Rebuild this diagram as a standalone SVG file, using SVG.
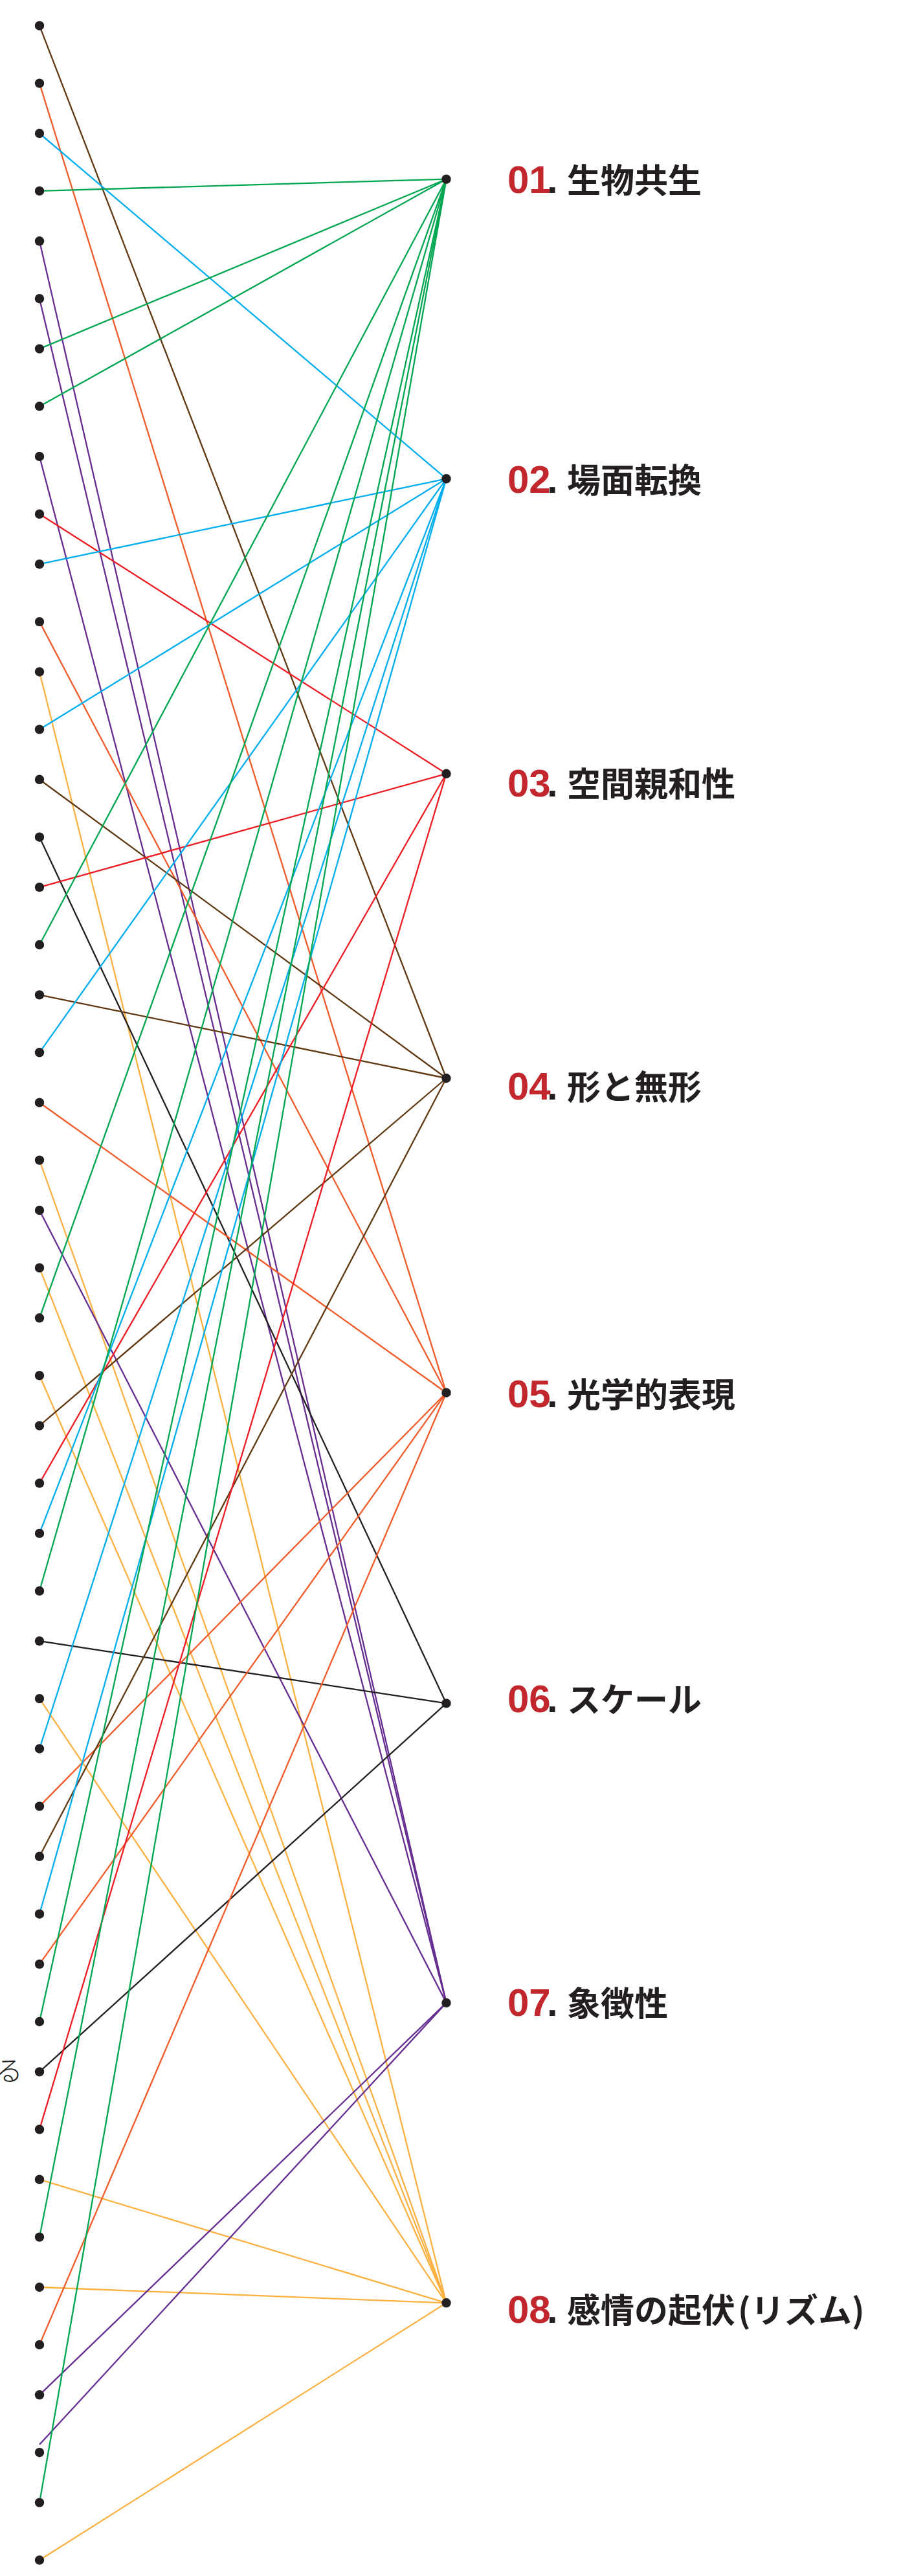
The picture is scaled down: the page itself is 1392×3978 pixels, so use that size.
<svg xmlns="http://www.w3.org/2000/svg" width="1392" height="3978" viewBox="0 0 1392 3978">
<style>
.bg{fill:#ffffff}
.c line{stroke-width:2.3;fill:none}
.g{stroke:#00a651}.b{stroke:#00aeef}.r{stroke:#ed1c24}.br{stroke:#603913}
.o{stroke:#f15a29}.k{stroke:#231f20}.p{stroke:#662d91}.y{stroke:#fbb040}
.dot{fill:#231f20}
.num{font-family:"Liberation Sans",Arial,sans-serif;font-weight:700;font-size:60px;fill:#c1272d}
.pd{font-family:"Liberation Sans",Arial,sans-serif;font-weight:700;font-size:60px;fill:#231f20}
.jp{font-family:"Noto Sans CJK JP","Noto Sans CJK SC",sans-serif;font-weight:700;font-size:52px;fill:#231f20}
.cut{font-family:"Noto Sans CJK JP","Noto Sans CJK SC",sans-serif;font-weight:300;font-size:42px;fill:#231f20}
</style>
<rect class="bg" x="0" y="0" width="1392" height="3978"/>
<g id="connectors" class="c">
<line class="br" x1="61" y1="39.7" x2="689.5" y2="1665"/>
<line class="o" x1="61" y1="128.6" x2="689.5" y2="2150.7"/>
<line class="b" x1="61" y1="206" x2="689.5" y2="739.3"/>
<line class="g" x1="61" y1="294.9" x2="689.5" y2="276.7"/>
<line class="p" x1="61" y1="372.3" x2="689.5" y2="3092.9"/>
<line class="p" x1="61" y1="461.2" x2="689.5" y2="3092.9"/>
<line class="g" x1="61" y1="538.6" x2="689.5" y2="276.7"/>
<line class="g" x1="61" y1="627.5" x2="689.5" y2="276.7"/>
<line class="p" x1="61" y1="704.9" x2="689.5" y2="3092.9"/>
<line class="r" x1="61" y1="793.8" x2="689.5" y2="1194.8"/>
<line class="b" x1="61" y1="871.2" x2="689.5" y2="739.3"/>
<line class="o" x1="61" y1="960.1" x2="689.5" y2="2150.7"/>
<line class="y" x1="61" y1="1037.5" x2="689.5" y2="3556.3"/>
<line class="b" x1="61" y1="1126.4" x2="689.5" y2="739.3"/>
<line class="br" x1="61" y1="1203.8" x2="689.5" y2="1665"/>
<line class="k" x1="61" y1="1292.7" x2="689.5" y2="2630.4"/>
<line class="r" x1="61" y1="1370.1" x2="689.5" y2="1194.8"/>
<line class="g" x1="61" y1="1459" x2="689.5" y2="276.7"/>
<line class="br" x1="61" y1="1536.4" x2="689.5" y2="1665"/>
<line class="b" x1="61" y1="1625.3" x2="689.5" y2="739.3"/>
<line class="o" x1="61" y1="1702.7" x2="689.5" y2="2150.7"/>
<line class="y" x1="61" y1="1791.6" x2="689.5" y2="3556.3"/>
<line class="p" x1="61" y1="1869" x2="689.5" y2="3092.9"/>
<line class="y" x1="61" y1="1957.9" x2="689.5" y2="3556.3"/>
<line class="g" x1="61" y1="2035.3" x2="689.5" y2="276.7"/>
<line class="y" x1="61" y1="2124.2" x2="689.5" y2="3556.3"/>
<line class="br" x1="61" y1="2201.6" x2="689.5" y2="1665"/>
<line class="r" x1="61" y1="2290.5" x2="689.5" y2="1194.8"/>
<line class="b" x1="61" y1="2367.9" x2="689.5" y2="739.3"/>
<line class="g" x1="61" y1="2456.8" x2="689.5" y2="276.7"/>
<line class="k" x1="61" y1="2534.2" x2="689.5" y2="2630.4"/>
<line class="y" x1="61" y1="2623.1" x2="689.5" y2="3556.3"/>
<line class="b" x1="61" y1="2700.5" x2="689.5" y2="739.3"/>
<line class="o" x1="61" y1="2789.4" x2="689.5" y2="2150.7"/>
<line class="br" x1="61" y1="2866.8" x2="689.5" y2="1665"/>
<line class="b" x1="61" y1="2955.7" x2="689.5" y2="739.3"/>
<line class="o" x1="61" y1="3033.1" x2="689.5" y2="2150.7"/>
<line class="g" x1="61" y1="3122" x2="689.5" y2="276.7"/>
<line class="k" x1="61" y1="3199.4" x2="689.5" y2="2630.4"/>
<line class="r" x1="61" y1="3288.3" x2="689.5" y2="1194.8"/>
<line class="y" x1="61" y1="3365.7" x2="689.5" y2="3556.3"/>
<line class="g" x1="61" y1="3454.6" x2="689.5" y2="276.7"/>
<line class="y" x1="61" y1="3532" x2="689.5" y2="3556.3"/>
<line class="o" x1="61" y1="3620.9" x2="689.5" y2="2150.7"/>
<line class="p" x1="61" y1="3698.3" x2="689.5" y2="3092.9"/>
<line class="p" x1="61" y1="3775" x2="689.5" y2="3092.9"/>
<line class="g" x1="61" y1="3864.6" x2="689.5" y2="276.7"/>
<line class="y" x1="61" y1="3953.5" x2="689.5" y2="3556.3"/>
</g>
<g id="left-dots">
<circle class="dot" cx="61" cy="39.7" r="7.2"/>
<circle class="dot" cx="61" cy="128.6" r="7.2"/>
<circle class="dot" cx="61" cy="206" r="7.2"/>
<circle class="dot" cx="61" cy="294.9" r="7.2"/>
<circle class="dot" cx="61" cy="372.3" r="7.2"/>
<circle class="dot" cx="61" cy="461.2" r="7.2"/>
<circle class="dot" cx="61" cy="538.6" r="7.2"/>
<circle class="dot" cx="61" cy="627.5" r="7.2"/>
<circle class="dot" cx="61" cy="704.9" r="7.2"/>
<circle class="dot" cx="61" cy="793.8" r="7.2"/>
<circle class="dot" cx="61" cy="871.2" r="7.2"/>
<circle class="dot" cx="61" cy="960.1" r="7.2"/>
<circle class="dot" cx="61" cy="1037.5" r="7.2"/>
<circle class="dot" cx="61" cy="1126.4" r="7.2"/>
<circle class="dot" cx="61" cy="1203.8" r="7.2"/>
<circle class="dot" cx="61" cy="1292.7" r="7.2"/>
<circle class="dot" cx="61" cy="1370.1" r="7.2"/>
<circle class="dot" cx="61" cy="1459" r="7.2"/>
<circle class="dot" cx="61" cy="1536.4" r="7.2"/>
<circle class="dot" cx="61" cy="1625.3" r="7.2"/>
<circle class="dot" cx="61" cy="1702.7" r="7.2"/>
<circle class="dot" cx="61" cy="1791.6" r="7.2"/>
<circle class="dot" cx="61" cy="1869" r="7.2"/>
<circle class="dot" cx="61" cy="1957.9" r="7.2"/>
<circle class="dot" cx="61" cy="2035.3" r="7.2"/>
<circle class="dot" cx="61" cy="2124.2" r="7.2"/>
<circle class="dot" cx="61" cy="2201.6" r="7.2"/>
<circle class="dot" cx="61" cy="2290.5" r="7.2"/>
<circle class="dot" cx="61" cy="2367.9" r="7.2"/>
<circle class="dot" cx="61" cy="2456.8" r="7.2"/>
<circle class="dot" cx="61" cy="2534.2" r="7.2"/>
<circle class="dot" cx="61" cy="2623.1" r="7.2"/>
<circle class="dot" cx="61" cy="2700.5" r="7.2"/>
<circle class="dot" cx="61" cy="2789.4" r="7.2"/>
<circle class="dot" cx="61" cy="2866.8" r="7.2"/>
<circle class="dot" cx="61" cy="2955.7" r="7.2"/>
<circle class="dot" cx="61" cy="3033.1" r="7.2"/>
<circle class="dot" cx="61" cy="3122" r="7.2"/>
<circle class="dot" cx="61" cy="3199.4" r="7.2"/>
<circle class="dot" cx="61" cy="3288.3" r="7.2"/>
<circle class="dot" cx="61" cy="3365.7" r="7.2"/>
<circle class="dot" cx="61" cy="3454.6" r="7.2"/>
<circle class="dot" cx="61" cy="3532" r="7.2"/>
<circle class="dot" cx="61" cy="3620.9" r="7.2"/>
<circle class="dot" cx="61" cy="3698.3" r="7.2"/>
<circle class="dot" cx="61" cy="3787.2" r="7.2"/>
<circle class="dot" cx="61" cy="3864.6" r="7.2"/>
<circle class="dot" cx="61" cy="3953.5" r="7.2"/>
</g>
<text class="cut" x="35" y="3213" text-anchor="end">る</text>
<g id="node-01">
<circle class="dot" cx="689.5" cy="276.7" r="7.2"/>
<text y="298.3"><tspan class="num" x="784">01</tspan><tspan class="pd" x="845">.</tspan><tspan class="jp" x="876">生物共生</tspan></text>
</g>
<g id="node-02">
<circle class="dot" cx="689.5" cy="739.3" r="7.2"/>
<text y="760.7"><tspan class="num" x="784">02</tspan><tspan class="pd" x="845">.</tspan><tspan class="jp" x="876">場面転換</tspan></text>
</g>
<g id="node-03">
<circle class="dot" cx="689.5" cy="1194.8" r="7.2"/>
<text y="1230"><tspan class="num" x="784">03</tspan><tspan class="pd" x="845">.</tspan><tspan class="jp" x="876">空間親和性</tspan></text>
</g>
<g id="node-04">
<circle class="dot" cx="689.5" cy="1665" r="7.2"/>
<text y="1698"><tspan class="num" x="784">04</tspan><tspan class="pd" x="845">.</tspan><tspan class="jp" x="876">形と無形</tspan></text>
</g>
<g id="node-05">
<circle class="dot" cx="689.5" cy="2150.7" r="7.2"/>
<text y="2173"><tspan class="num" x="784">05</tspan><tspan class="pd" x="845">.</tspan><tspan class="jp" x="876">光学的表現</tspan></text>
</g>
<g id="node-06">
<circle class="dot" cx="689.5" cy="2630.4" r="7.2"/>
<text y="2643.8"><tspan class="num" x="784">06</tspan><tspan class="pd" x="845">.</tspan><tspan class="jp" x="876">スケール</tspan></text>
</g>
<g id="node-07">
<circle class="dot" cx="689.5" cy="3092.9" r="7.2"/>
<text y="3112.5"><tspan class="num" x="784">07</tspan><tspan class="pd" x="845">.</tspan><tspan class="jp" x="876">象徴性</tspan></text>
</g>
<g id="node-08">
<circle class="dot" cx="689.5" cy="3556.3" r="7.2"/>
<text y="3586.7"><tspan class="num" x="784">08</tspan><tspan class="pd" x="845">.</tspan><tspan class="jp" x="876">感情の起伏</tspan><tspan class="jp" x="1140">(</tspan><tspan class="jp" x="1160">リズム</tspan><tspan class="jp" x="1316">)</tspan></text>
</g>
</svg>
